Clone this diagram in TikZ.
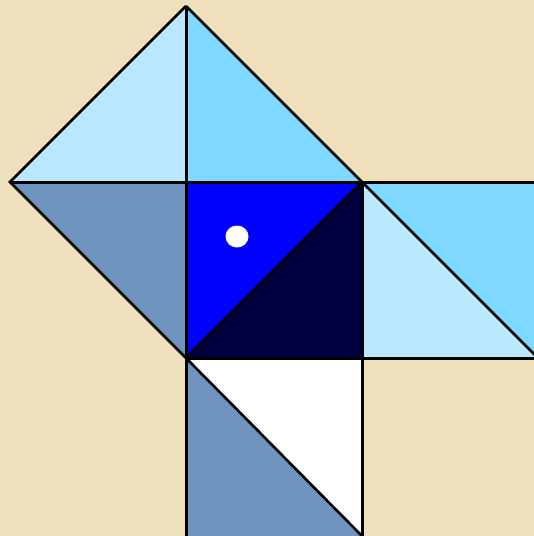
\documentclass[tikz,border=0pt]{standalone}
\begin{document}
\begin{tikzpicture}[x=1pt,y=-1pt,
  edge/.style={draw=black,line width=3pt,line join=miter},
  thin edge/.style={draw=black,line width=2.6pt,line join=miter}]
\definecolor{parch}{RGB}{238,224,186}
\definecolor{lightb}{RGB}{186,232,255}
\definecolor{midb}{RGB}{128,216,255}
\definecolor{steelb}{RGB}{112,148,192}
\definecolor{pureb}{RGB}{0,0,255}
\definecolor{navyb}{RGB}{0,0,64}
\useasboundingbox (0,0) rectangle (534,536);
\clip (0,0) rectangle (534,536);
\fill[parch] (0,0) rectangle (534,536);
% top diamond pieces
\fill[lightb] (186,6) -- (10,182) -- (186,182) -- cycle;
\fill[midb] (186,6) -- (186,182) -- (362,182) -- cycle;
\fill[steelb] (10,182) -- (186,182) -- (186,358) -- cycle;
% centre square
\fill[pureb] (186,182) -- (362,182) -- (186,358) -- cycle;
\fill[navyb] (362,182) -- (362,358) -- (186,358) -- cycle;
% right rectangle
\fill[midb] (362,182) -- (540,182) -- (540,358) -- cycle;
\fill[lightb] (362,182) -- (362,358) -- (540,358) -- cycle;
% bottom square
\fill[steelb] (186,358) -- (362,536) -- (362,540) -- (186,540) -- cycle;
\fill[white] (186,358) -- (362,358) -- (362,536) -- cycle;
% outlines
\draw[thin edge] (186,6) -- (10,182) -- (186,358);
\draw[thin edge] (186,6) -- (362,182);
\draw[edge] (186,6) -- (186,540);
\draw[edge] (10,182) -- (540,182);
\draw[edge] (186,358) -- (540,358);
\draw[edge] (362,182) -- (362,540);
\draw[thin edge] (186,358) -- (362,182);
\draw[thin edge] (362,182) -- (538,358);
\draw[thin edge] (186,358) -- (364,538);
% white dot
\fill[white] (237,236.5) ellipse [x radius=11.5, y radius=11];
\end{tikzpicture}
\end{document}
